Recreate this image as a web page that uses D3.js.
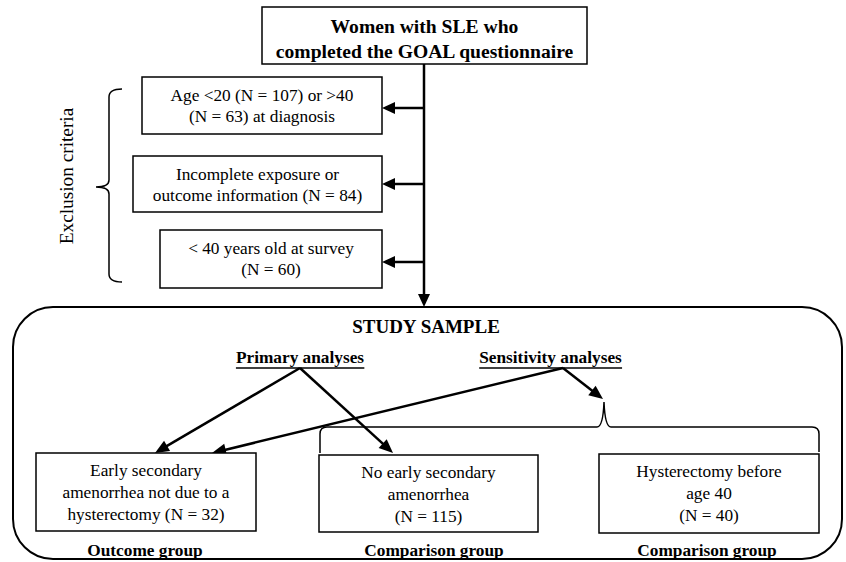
<!DOCTYPE html>
<html>
<head>
<meta charset="utf-8">
<script src="https://cdn.jsdelivr.net/npm/d3@7/dist/d3.min.js"></script>
<style>
  html, body { margin: 0; padding: 0; background: #fff; }
  svg { display: block; }
  text { font-family: "Liberation Serif", "Times New Roman", serif; fill: #000; }
</style>
</head>
<body>
<svg id="chart" width="846" height="562"></svg>
<script>
// ---- Content (text only) ----
const topBoxLines = ["Women with SLE who", "completed the GOAL questionnaire"];
const exclusionLabel = "Exclusion criteria";
const exclusionBoxes = [
  ["Age <20 (N = 107) or >40", "(N = 63) at diagnosis"],
  ["Incomplete exposure or", "outcome information (N = 84)"],
  ["< 40 years old at survey", "(N = 60)"]
];
const sampleTitle = "STUDY SAMPLE";
const analysisLabels = ["Primary analyses", "Sensitivity analyses"];
const groupBoxes = [
  ["Early secondary", "amenorrhea not due to a", "hysterectomy (N = 32)"],
  ["No early secondary", "amenorrhea", "(N = 115)"],
  ["Hysterectomy before", "age 40", "(N = 40)"]
];
const groupLabels = ["Outcome group", "Comparison group", "Comparison group"];

// ---- Layout ----
const svg = d3.select("#chart");
const g = svg.append("g");

function box(x0, y0, x1, y1, sw) {
  g.append("rect").attr("x", x0).attr("y", y0)
    .attr("width", x1 - x0).attr("height", y1 - y0)
    .attr("fill", "#fff").attr("stroke", "#000").attr("stroke-width", sw || 1.5);
}
function lines(arr, cx, y0, dy, size, weight) {
  arr.forEach((t, i) => {
    g.append("text").attr("x", cx).attr("y", y0 + i * dy)
      .attr("text-anchor", "middle")
      .attr("font-size", size).attr("font-weight", weight || "normal")
      .text(t);
  });
}
function arrow(x1, y1, x2, y2, sw, hl, hw) {
  hl = hl || 13; hw = hw || 6;
  const dx = x2 - x1, dy = y2 - y1, L = Math.hypot(dx, dy);
  const ux = dx / L, uy = dy / L;
  const bx = x2 - ux * hl, by = y2 - uy * hl;
  g.append("line").attr("x1", x1).attr("y1", y1).attr("x2", bx + ux * 2).attr("y2", by + uy * 2)
    .attr("stroke", "#000").attr("stroke-width", sw || 2.5);
  g.append("path")
    .attr("d", `M${x2},${y2}L${bx - uy * hw},${by + ux * hw}L${bx + uy * hw},${by - ux * hw}Z`)
    .attr("fill", "#000");
}

// Round study-sample container
g.append("rect").attr("x", 13).attr("y", 307).attr("width", 829).attr("height", 252)
  .attr("rx", 40).attr("ry", 40).attr("fill", "none")
  .attr("stroke", "#000").attr("stroke-width", 2);

// Top box
box(262, 7, 587, 64);
lines(topBoxLines, 424.5, 33, 25, 19.6, "bold");

// Main vertical line with arrow into study sample
arrow(424, 64, 424, 307, 2.5, 13, 6);

// Exclusion boxes
const exBoxes = [
  { x0: 142, y0: 77, x1: 382, y1: 134, ay: 108 },
  { x0: 133, y0: 156, x1: 382, y1: 212, ay: 184 },
  { x0: 160, y0: 230, x1: 382, y1: 288, ay: 262 }
];
exclusionBoxes.forEach((txt, i) => {
  const b = exBoxes[i];
  box(b.x0, b.y0, b.x1, b.y1);
  lines(txt, (b.x0 + b.x1) / 2, b.y0 + 24, 21, 17.3);
  arrow(424, b.ay, b.x1, b.ay, 2.5, 13, 6);
});

// Left brace
g.append("path")
  .attr("d", "M122,89 Q109,89 109,97 L109,180 Q109,187 96,187 Q109,187 109,194 L109,274 Q109,282 122,282")
  .attr("fill", "none").attr("stroke", "#000").attr("stroke-width", 1.5);
g.append("text")
  .attr("transform", "translate(73,176) rotate(-90)")
  .attr("text-anchor", "middle").attr("font-size", 19.3)
  .text(exclusionLabel);

// Study sample title
lines([sampleTitle], 426, 333, 0, 19, "bold");

// Analysis labels, underlined
const anPos = [{ cx: 300, y: 363 }, { cx: 550.5, y: 363 }];
analysisLabels.forEach((t, i) => {
  const p = anPos[i];
  const tx = g.append("text").attr("x", p.cx).attr("y", p.y)
    .attr("text-anchor", "middle").attr("font-size", 17.3).attr("font-weight", "bold").text(t);
  const bb = tx.node().getBBox();
  g.append("line").attr("x1", bb.x).attr("x2", bb.x + bb.width)
    .attr("y1", 368).attr("y2", 368).attr("stroke", "#000").attr("stroke-width", 1.5);
});

// Horizontal brace over comparison groups
g.append("path")
  .attr("d", "M320,453 L320,434 Q320,427 327,427 L597,427 Q603,427 604,402 Q605,427 611,427 L812,427 Q819,427 819,434 L819,452")
  .attr("fill", "none").attr("stroke", "#000").attr("stroke-width", 1.5);

// Analysis arrows
arrow(300, 368, 155, 453, 2.5, 14, 6);
arrow(300, 368, 393, 453, 2.5, 14, 6);
arrow(563, 368, 212, 453, 2.5, 14, 6);
arrow(563, 368, 603, 399, 2.5, 14, 6);

// Group boxes
const gBoxes = [
  { x0: 36, y0: 453, x1: 256, y1: 531, lx: 145 },
  { x0: 319, y0: 455, x1: 538, y1: 532, lx: 434 },
  { x0: 599, y0: 454, x1: 819, y1: 533, lx: 707 }
];
groupBoxes.forEach((txt, i) => {
  const b = gBoxes[i];
  box(b.x0, b.y0, b.x1, b.y1);
  lines(txt, (b.x0 + b.x1) / 2, b.y0 + 23, 22, 17.3);
  lines([groupLabels[i]], b.lx, 556, 0, 17.3, "bold");
});
</script>
</body>
</html>
